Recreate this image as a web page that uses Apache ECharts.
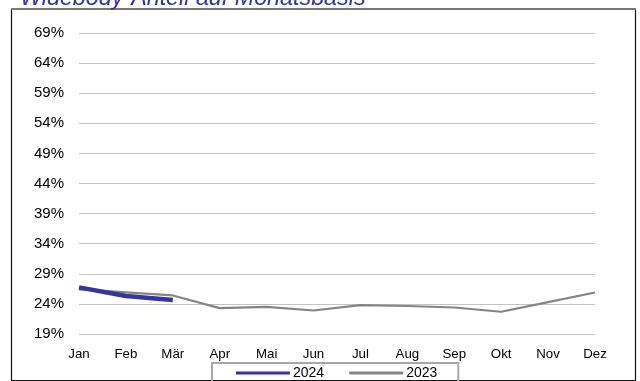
<!DOCTYPE html>
<html><head><meta charset="utf-8">
<script src="https://cdn.jsdelivr.net/npm/echarts@6/dist/echarts.min.js"></script>
<style>html,body{margin:0;padding:0;background:#fff}#c{width:640px;height:381px}</style>
</head><body><div id="c"></div>
<script>
const titleText = 'Widebody-Anteil auf Monatsbasis';
const months = ['Jan','Feb','Mär','Apr','Mai','Jun','Jul','Aug','Sep','Okt','Nov','Dez'];
const series2024 = [26.75, 25.3, 24.65];
const series2023 = [26.4, 25.9, 25.4, 23.3, 23.5, 22.9, 23.8, 23.65, 23.4, 22.7, 24.3, 25.9];
const yMin = 19, yMax = 69, yStep = 5;

const chart = echarts.init(document.getElementById('c'), null, {renderer:'canvas'});
chart.setOption({
  animation: false,
  textStyle: {fontFamily: 'Liberation Sans, Arial, sans-serif'},
  graphic: [
    {type:'rect', shape:{x:11.5, y:9.5, width:624, height:371}, style:{fill:'none', stroke:'#111', lineWidth:1.2}, z:0},
    {type:'line', shape:{x1:11, y1:9, x2:636, y2:9}, style:{stroke:'#777', lineWidth:2}, z:1},
    {type:'text', left:20, top:-12.5, style:{text:titleText, font:'italic 23.3px "Liberation Sans", Arial, sans-serif', fill:'#3434a4'}, z:2}
  ],
  grid: {left:79, right:45, top:33, bottom:47, containLabel:false},
  legend: {
    left: 212, top: 363,
    data: ['2024','2023'],
    icon: 'rect',
    itemWidth: 54, itemHeight: 3, itemGap: 25,
    padding: [3, 21, 12, 24],
    borderColor: '#a8a8a8', borderWidth: 2,
    textStyle: {fontSize: 14, color:'#000', padding:[0,0,0,-2]}
  },
  xAxis: {
    type:'category', data: months, boundaryGap:false,
    axisLine:{show:false}, axisTick:{show:false},
    axisLabel:{color:'#000', fontSize:13.3, margin:14}
  },
  yAxis: {
    type:'value', min:yMin, max:yMax, interval:yStep,
    axisLine:{show:false}, axisTick:{show:false},
    axisLabel:{color:'#000', fontSize:15, margin:15, formatter: v => v + '%'},
    splitLine:{lineStyle:{color:'#c4c4c4', width:1}}
  },
  series: [
    {name:'2024', type:'line', data: series2024, symbol:'none', z:3,
     lineStyle:{color:'#3535a0', width:4.5}, itemStyle:{color:'#3535a0'}},
    {name:'2023', type:'line', data: series2023, symbol:'none', z:2,
     lineStyle:{color:'#858585', width:2.2}, itemStyle:{color:'#858585'}}
  ]
});
</script></body></html>
